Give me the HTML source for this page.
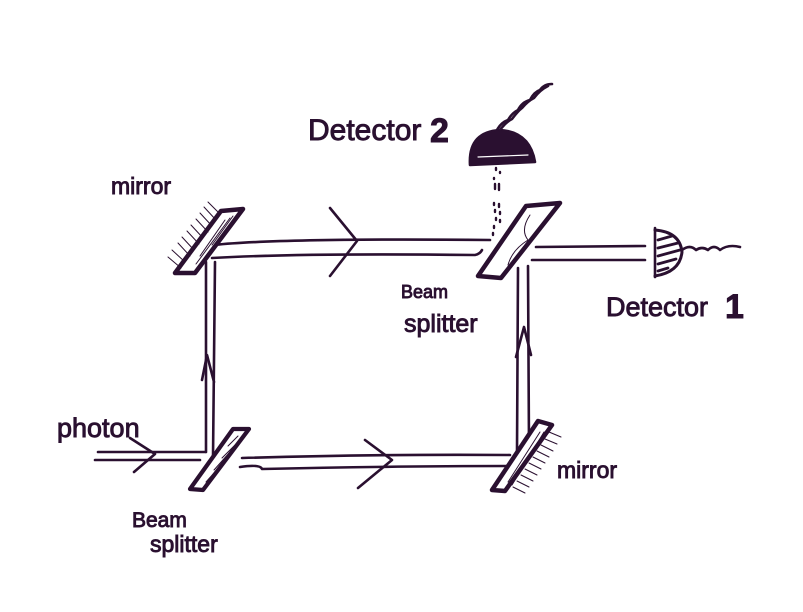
<!DOCTYPE html>
<html><head><meta charset="utf-8"><style>
html,body{margin:0;padding:0;background:#fff;}
svg{display:block;}
text{font-family:"Liberation Sans",sans-serif;fill:#2a1030;stroke:#2a1030;stroke-width:0.9;}
</style></head><body>
<svg width="803" height="612" viewBox="0 0 803 612" xmlns="http://www.w3.org/2000/svg">
<g fill="none" stroke="#2a1030" stroke-width="2.6" stroke-linecap="round" stroke-linejoin="round">
<!-- top beam -->
<path d="M214 245 Q280 238 490 240"/>
<path d="M212 258 Q300 253 475 255 Q480 254 482 250"/>
<path d="M330 208 L357 241 L330 276"/>
<!-- left vertical beam -->
<path d="M206 262 L206 452"/>
<path d="M215 262 L213 458"/>
<path d="M202 380 L207 355 L214 382"/>
<!-- photon incoming -->
<path d="M98 452 L205 452"/>
<path d="M95 460 L200 460"/>
<path d="M130 438 L155 454 L134 472"/>
<!-- bottom beam -->
<path d="M242 458 Q380 454 510 455"/>
<path d="M240 467 Q260 464 262 469 Q400 466 508 466"/>
<path d="M365 440 L392 460 L358 488"/>
<!-- right vertical beam -->
<path d="M518 268 L517 452"/>
<path d="M528 266 L529 448"/>
<path d="M516 357 L524 327 L531 355"/>
<!-- output to detector 1 -->
<path d="M536 247 L645 246"/>
<path d="M532 260 L645 260"/>
<!-- detector 1 -->
<path d="M655 228 L655 277"/>
<path d="M655 230 Q680 232 682 252 Q680 272 655 276" stroke-width="3"/>
<path d="M658 240 L672 236 M658 248 L678 243 M658 256 L680 250 M658 264 L676 259 M658 271 L668 268" stroke-width="2.8"/>
<path d="M682 250 Q690 244 696 250 Q702 246 708 250 Q714 244 720 250 Q728 244 740 247"/>
<!-- detector 2 -->
<path d="M470 165 Q468 132 500 130 Q530 132 535 162 Z" fill="#2a1030"/>
<path d="M478 157 L528 155" stroke="#fff" stroke-width="1.2"/>
<path d="M496 132 Q500 123 508 120 Q512 113 518 110 Q522 102 530 100 Q534 92 540 90 Q544 84 552 84"/>
<path d="M500 130 Q506 122 512 119 Q518 111 522 108 Q528 101 534 98 Q540 90 548 86"/>
<!-- dots -->
<path d="M496 168 l0 2 M500 172 l0 1 M494 178 l0 1 M495 184 l0 5 M499 184 l0 6 M494 203 l0 2 M499 204 l0 3 M495 210 l0 2 M500 212 l0 2 M496 218 l0 2 M500 220 l0 2 M494 226 l0 2 M493 233 l0 2" stroke-width="2.4"/>
</g>
<g stroke="#2a1030" stroke-linejoin="round" stroke-linecap="round">
<!-- top-left mirror -->
<polygon points="221,211 243,209 195,273 175,273" fill="#fff" stroke-width="4.5"/>
<path d="M212 226 L200 213 M208 232 L196 219 M203 238 L191 225 M199 244 L187 231 M194 250 L182 237 M190 256 L178 243 M185 262 L172 250 M181 268 L168 257 M216 220 L204 207 M220 214 L208 202" stroke-width="1" fill="none"/>
<path d="M225 220 L200 256 M230 218 L196 264 M233 216 L212 245" stroke-width="1" fill="none"/>
<!-- top-right splitter -->
<polygon points="526,206 560,203 501,278 478,276" fill="#fff" stroke-width="4.5"/>
<path d="M530 215 Q520 230 528 240 Q512 250 508 265" stroke-width="1" fill="none"/>
<!-- bottom-left splitter -->
<polygon points="233,429 249,429 203,490 190,489" fill="#fff" stroke-width="4.2"/>
<path d="M238 436 L228 446 M236 444 L222 458 M230 452 L214 470 M222 464 L206 482" stroke-width="1" fill="none"/>
<!-- bottom-right mirror -->
<polygon points="538,421 552,425 505,491 492,490" fill="#fff" stroke-width="4.5"/>
<path d="M540 432 L508 482 M544 432 L512 485" stroke-width="1" fill="none"/>
<path d="M549 432 L561 437 M545 439 L557 444 M541 445 L553 451 M537 451 L549 457 M533 457 L545 463 M529 463 L541 469 M525 469 L537 475 M521 475 L533 481 M517 481 L529 487 M513 487 L525 493" stroke-width="1" fill="none"/>
</g>
<!-- labels -->
<text x="308" y="140" font-size="30">Detector</text>
<text x="430" y="142" font-size="34" font-weight="bold">2</text>
<text x="111" y="194" font-size="23">mirror</text>
<text x="401" y="298" font-size="18">Beam</text>
<text x="404" y="332" font-size="25">splitter</text>
<text x="606" y="316" font-size="27">Detector</text>
<text x="725" y="318" font-size="34" font-weight="bold">1</text>
<text x="57" y="437" font-size="27">photon</text>
<text x="132" y="527" font-size="21">Beam</text>
<text x="150" y="552" font-size="23">splitter</text>
<text x="557" y="478" font-size="23">mirror</text>
</svg>
</body></html>
